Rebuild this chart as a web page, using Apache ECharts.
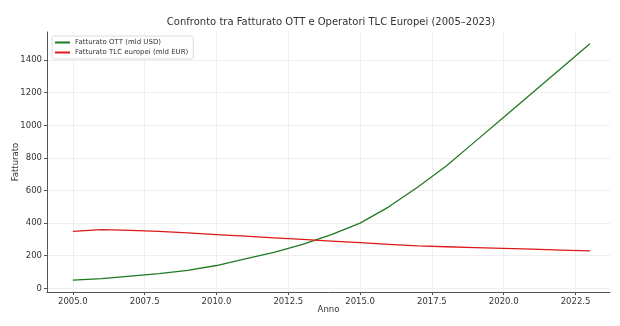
<!DOCTYPE html>
<html><head><meta charset="utf-8">
<script src="https://cdn.jsdelivr.net/npm/echarts@6/dist/echarts.min.js"></script>
<style>html,body{margin:0;padding:0;background:#fff}#c{width:620px;height:326px}</style>
</head><body><div id="c"></div>
<script>
const years = [2005,2006,2007,2008,2009,2010,2011,2012,2013,2014,2015,2016,2017,2018,2019,2020,2021,2022,2023];
const ottRevenue = [50,60,75,90,110,140,180,220,270,330,400,500,620,750,900,1050,1200,1350,1500];
const tlcRevenue = [350,360,355,350,340,330,320,310,300,290,280,270,260,255,250,245,240,235,230];
const xTicks = [2005,2007.5,2010,2012.5,2015,2017.5,2020,2022.5];
const yTicks = [0,200,400,600,800,1000,1200,1400];
const titleText = 'Confronto tra Fatturato OTT e Operatori TLC Europei (2005–2023)';
const seriesNames = ['Fatturato OTT (mld USD)','Fatturato TLC europei (mld EUR)'];

const font = 'DejaVu Sans';
const chart = echarts.init(document.getElementById('c'), null, {renderer:'canvas'});
const gridLineData = [
  ...xTicks.map(v => ({xAxis: v})),
  ...yTicks.map(v => ({yAxis: v}))
];
chart.setOption({
  animation:false,
  backgroundColor:'#fff',
  title:{text:titleText,left:331,top:17,textAlign:'center',padding:0,
    textStyle:{fontFamily:font,fontSize:10,fontWeight:'normal',color:'#333'}},
  legend:{left:52,top:36,orient:'vertical',itemWidth:15,itemHeight:2,itemGap:3,
    padding:[3,5,3,3],borderColor:'#ddd',borderWidth:1,borderRadius:2,backgroundColor:'rgba(255,255,255,0.9)',
    textStyle:{fontFamily:font,fontSize:7,color:'#333'},
    icon:'rect',data:seriesNames},
  grid:{left:47,right:10,top:32,bottom:34,containLabel:false,outerBoundsMode:'none'},
  xAxis:{type:'value',min:2004.1,max:2023.7,
    name:'Anno',nameLocation:'middle',nameGap:13,nameMoveOverlap:false,
    nameTextStyle:{fontFamily:font,fontSize:8.5,color:'#333'},
    axisLine:{show:true,onZero:false,lineStyle:{color:'#555',width:1}},
    axisTick:{show:true,customValues:xTicks,length:3,lineStyle:{color:'#555'}},
    axisLabel:{customValues:xTicks,fontFamily:font,fontSize:8.5,color:'#333',margin:5,
      formatter:v=>v.toFixed(1)},
    splitLine:{show:false}},
  yAxis:{type:'value',min:-22.5,max:1572.5,
    name:'Fatturato',nameLocation:'middle',nameGap:27,nameMoveOverlap:false,
    nameTextStyle:{fontFamily:font,fontSize:8.5,color:'#333'},
    axisLine:{show:true,onZero:false,lineStyle:{color:'#555',width:1}},
    axisTick:{show:true,customValues:yTicks,length:3,lineStyle:{color:'#555'}},
    axisLabel:{customValues:yTicks,fontFamily:font,fontSize:8.5,color:'#333',margin:5,
      formatter:v=>String(v)},
    splitLine:{show:false}},
  series:[
    {name:'grid',type:'line',data:[],z:0,silent:true,
      markLine:{silent:true,symbol:'none',label:{show:false},animation:false,z:0,
        lineStyle:{color:'#ebebeb',width:0.8,type:'solid'},data:gridLineData}},
    {name:seriesNames[0],type:'line',data:years.map((y,i)=>[y,ottRevenue[i]]),
      showSymbol:false,lineStyle:{color:'#1f7a1f',width:1.3},itemStyle:{color:'#1f7a1f'},z:3},
    {name:seriesNames[1],type:'line',data:years.map((y,i)=>[y,tlcRevenue[i]]),
      showSymbol:false,lineStyle:{color:'#dd1a1a',width:1.3},itemStyle:{color:'#dd1a1a'},z:3}
  ]
});
</script></body></html>
